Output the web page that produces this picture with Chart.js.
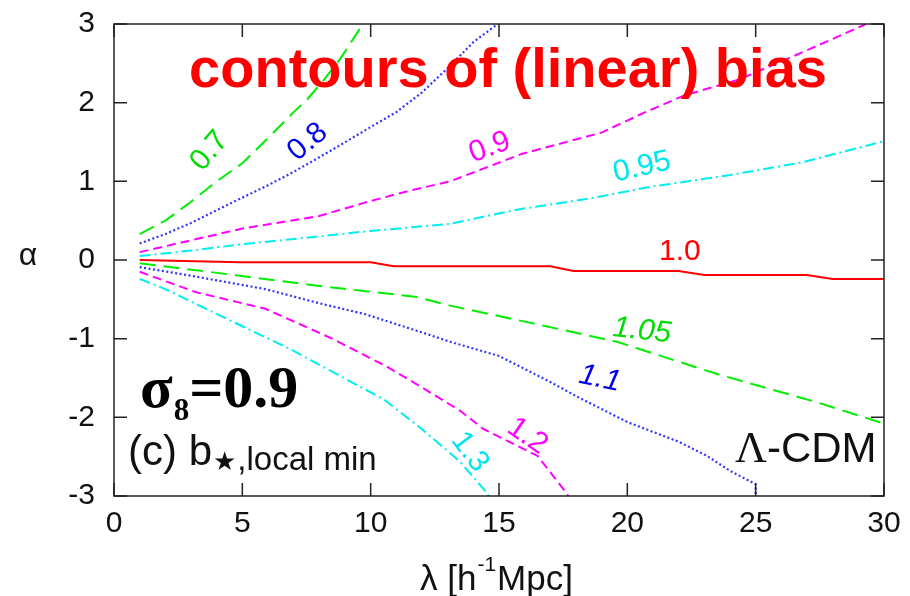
<!DOCTYPE html>
<html>
<head>
<meta charset="utf-8">
<script src="https://cdn.jsdelivr.net/npm/chart.js@4/dist/chart.umd.min.js"></script>
<style>
  html, body { margin: 0; padding: 0; background: #fff; }
  #wrap { width: 910px; height: 596px; }
</style>
</head>
<body>
<div id="wrap"><canvas id="chart" width="910" height="596"></canvas></div>
<script>
// contour lines of linear bias, [lambda, alpha]
const c07 = [[1,0.33],[2,0.5],[3,0.74],[4,1.0],[5,1.23],[6,1.55],[7,1.88],[7.5,2.03],[8.2,2.3],[8.8,2.55],[9.2,2.75],[9.7,3.0]];
const c08 = [[1,0.21],[2,0.33],[3,0.47],[4.6,0.73],[6,0.95],[7,1.12],[8.5,1.4],[10,1.69],[11,1.88],[12,2.13],[13.1,2.47],[14,2.77],[14.95,3.0]];
const c09 = [[1,0.1],[3,0.25],[5,0.4],[8,0.56],[10,0.75],[11.5,0.88],[13.1,1.0],[15.9,1.35],[19,1.62],[20.5,1.85],[22.2,2.09],[24.4,2.3],[27.1,2.68],[29.1,2.97],[29.3,3.0]];
const c095 = [[1,0.05],[3,0.12],[5,0.2],[8,0.3],[10,0.37],[13.1,0.46],[15.7,0.64],[18.5,0.78],[20.9,0.93],[24,1.08],[26.8,1.24],[30,1.51]];
const c10 = [[1,0],[4.9,-0.03],[10,-0.03],[10.9,-0.08],[17,-0.08],[17.9,-0.14],[22,-0.14],[23,-0.19],[27,-0.19],[28,-0.24],[30,-0.24]];
const c105 = [[1,-0.04],[4.9,-0.2],[8,-0.33],[11.8,-0.47],[13.1,-0.58],[16.1,-0.79],[19.6,-1.04],[23.5,-1.45],[27.4,-1.81],[30,-2.08]];
const c11 = [[1,-0.09],[3,-0.2],[5.9,-0.37],[8,-0.55],[9.8,-0.69],[12,-0.92],[13.1,-1.04],[15,-1.22],[17,-1.55],[18,-1.73],[20,-2.06],[22,-2.31],[23.1,-2.49],[24,-2.68],[25,-2.85],[25,-3.0]];
const c12 = [[1,-0.15],[3.2,-0.41],[5.9,-0.62],[8.5,-1.0],[10.6,-1.35],[11.9,-1.6],[13.5,-1.92],[14.4,-2.15],[16.5,-2.49],[17.6,-2.95],[17.7,-3.0]];
const c13 = [[1,-0.24],[2,-0.37],[4.6,-0.78],[6.85,-1.13],[8.5,-1.42],[10.5,-1.77],[12,-2.15],[13.5,-2.57],[14.5,-2.95],[14.6,-3.0]];

const levels = ["0.7", "0.8", "0.9", "0.95", "1.0", "1.05", "1.1", "1.2", "1.3"];
const xTicks = [0, 5, 10, 15, 20, 25, 30];
const yTicks = [-3, -2, -1, 0, 1, 2, 3];

// line look for each level
const styles = [
  { color: "#00ee00", dash: [16, 8] },
  { color: "#3333ff", dash: [2, 2.5] },
  { color: "#ff00ff", dash: [9, 5] },
  { color: "#00eeee", dash: [11, 4, 2, 4] },
  { color: "#ff0000", dash: [] },
  { color: "#00ee00", dash: [16, 8] },
  { color: "#3333ff", dash: [2, 2.5] },
  { color: "#ff00ff", dash: [9, 5] },
  { color: "#00eeee", dash: [11, 4, 2, 4] }
];
// where each level's label sits: [lambda, alpha, angle deg, colour, italic]
const labelSpots = [
  [3.72, 1.385, -50, "#00dd00", false],
  [7.55, 1.5, -40, "#0000ee", false],
  [14.64, 1.43, -20, "#ff00ff", false],
  [20.57, 1.18, -13, "#00e5ee", false],
  [22.05, 0.11, 0, "#ff0000", false],
  [20.57, -0.9, 6, "#00dd00", true],
  [18.93, -1.51, 12, "#0000ee", true],
  [16.1, -2.24, 35, "#ff00ff", false],
  [13.86, -2.44, 53, "#00e5ee", false]
];

const series = [c07, c08, c09, c095, c10, c105, c11, c12, c13];

const datasets = series.map((s, i) => ({
  label: levels[i],
  data: s.map(p => ({ x: p[0], y: p[1] })),
  borderColor: styles[i].color,
  borderDash: styles[i].dash,
  borderWidth: i === 1 || i === 6 ? 2.2 : 2,
  pointRadius: 0,
  tension: 0,
  fill: false
}));

const SANS = "'Liberation Sans', Arial, sans-serif";
const SERIF = "'Liberation Serif', 'Times New Roman', serif";

const decor = {
  id: "decor",
  afterDraw(chart) {
    const ctx = chart.ctx;
    const a = chart.chartArea;
    const xs = chart.scales.x, ys = chart.scales.y;
    ctx.save();

    // frame and inward ticks on all four sides
    ctx.strokeStyle = "#222";
    ctx.lineWidth = 1.5;
    ctx.strokeRect(a.left, a.top, a.right - a.left, a.bottom - a.top);
    const tl = 13;
    ctx.beginPath();
    xTicks.forEach(v => {
      const px = xs.getPixelForValue(v);
      ctx.moveTo(px, a.bottom); ctx.lineTo(px, a.bottom - tl);
      ctx.moveTo(px, a.top); ctx.lineTo(px, a.top + tl);
    });
    yTicks.forEach(v => {
      const py = ys.getPixelForValue(v);
      ctx.moveTo(a.left, py); ctx.lineTo(a.left + tl, py);
      ctx.moveTo(a.right, py); ctx.lineTo(a.right - tl, py);
    });
    ctx.stroke();

    // contour labels
    labelSpots.forEach((l, i) => {
      ctx.save();
      ctx.translate(xs.getPixelForValue(l[0]), ys.getPixelForValue(l[1]));
      ctx.rotate(l[2] * Math.PI / 180);
      ctx.font = (l[4] ? "italic " : "") + "30px " + SANS;
      ctx.fillStyle = l[3];
      ctx.textAlign = "center";
      ctx.textBaseline = "middle";
      ctx.fillText(levels[i], 0, 0);
      ctx.restore();
    });

    // big title
    ctx.fillStyle = "#ff0000";
    ctx.font = "bold 56px " + SANS;
    ctx.textAlign = "center";
    ctx.textBaseline = "alphabetic";
    ctx.fillText("contours of (linear) bias", 508, 87);

    // sigma_8 = 0.9
    ctx.fillStyle = "#000";
    ctx.textAlign = "left";
    ctx.font = "bold 60px " + SERIF;
    ctx.fillText("σ", 140, 407);
    let w = ctx.measureText("σ").width;
    ctx.font = "bold 31px " + SERIF;
    ctx.fillText("8", 140 + w + 1, 420);
    const w8 = ctx.measureText("8").width;
    ctx.font = "bold 60px " + SERIF;
    ctx.fillText("=0.9", 140 + w + 1 + w8, 407);

    // (c) b_{*,local min}
    ctx.fillStyle = "#111";
    ctx.font = "42px " + SANS;
    ctx.fillText("(c) b", 128, 465);
    w = ctx.measureText("(c) b").width;
    ctx.font = "26px 'DejaVu Sans', sans-serif";
    ctx.fillText("★", 128 + w + 1, 470);
    const ws = ctx.measureText("★").width;
    ctx.font = "33px " + SANS;
    ctx.fillText(",local min", 128 + w + ws + 2, 470);

    // Lambda-CDM
    ctx.font = "44px " + SERIF;
    ctx.fillText("Λ", 735, 462);
    const wl = ctx.measureText("Λ").width;
    ctx.font = "42px " + SANS;
    ctx.fillText("-CDM", 735 + wl, 462);

    // axis titles
    ctx.font = "35px " + SANS;
    ctx.fillText("λ [h", 420, 590);
    let wx = ctx.measureText("λ [h").width;
    ctx.font = "21px " + SANS;
    ctx.fillText("-1", 420 + wx + 1, 571);
    wx += ctx.measureText("-1").width + 2;
    ctx.font = "35px " + SANS;
    ctx.fillText("Mpc]", 420 + wx, 590);

    ctx.font = "32px " + SANS;
    ctx.textAlign = "center";
    ctx.textBaseline = "middle";
    ctx.fillText("α", 28, 256);

    ctx.restore();
  }
};

new Chart(document.getElementById("chart"), {
  type: "line",
  data: { datasets },
  options: {
    responsive: false,
    animation: false,
    parsing: true,
    layout: { padding: { left: 0, top: 24, right: 26, bottom: 0 } },
    plugins: { legend: { display: false }, tooltip: { enabled: false } },
    scales: {
      x: {
        type: "linear",
        min: 0, max: 30,
        afterBuildTicks: s => { s.ticks = xTicks.map(v => ({ value: v })); },
        afterFit: s => { s.height = 100; s.paddingLeft = 0; s.paddingRight = 0; },
        grid: { display: false, drawTicks: false },
        border: { display: false },
        ticks: { font: { size: 30, family: SANS }, color: "#111", padding: 10, maxRotation: 0 }
      },
      y: {
        type: "linear",
        min: -3, max: 3,
        afterBuildTicks: s => { s.ticks = yTicks.map(v => ({ value: v })); },
        afterFit: s => { s.width = 114; s.paddingTop = 0; s.paddingBottom = 0; },
        grid: { display: false, drawTicks: false },
        border: { display: false },
        ticks: { font: { size: 30, family: SANS }, color: "#111", padding: 19 }
      }
    }
  },
  plugins: [decor]
});
</script>
</body>
</html>
